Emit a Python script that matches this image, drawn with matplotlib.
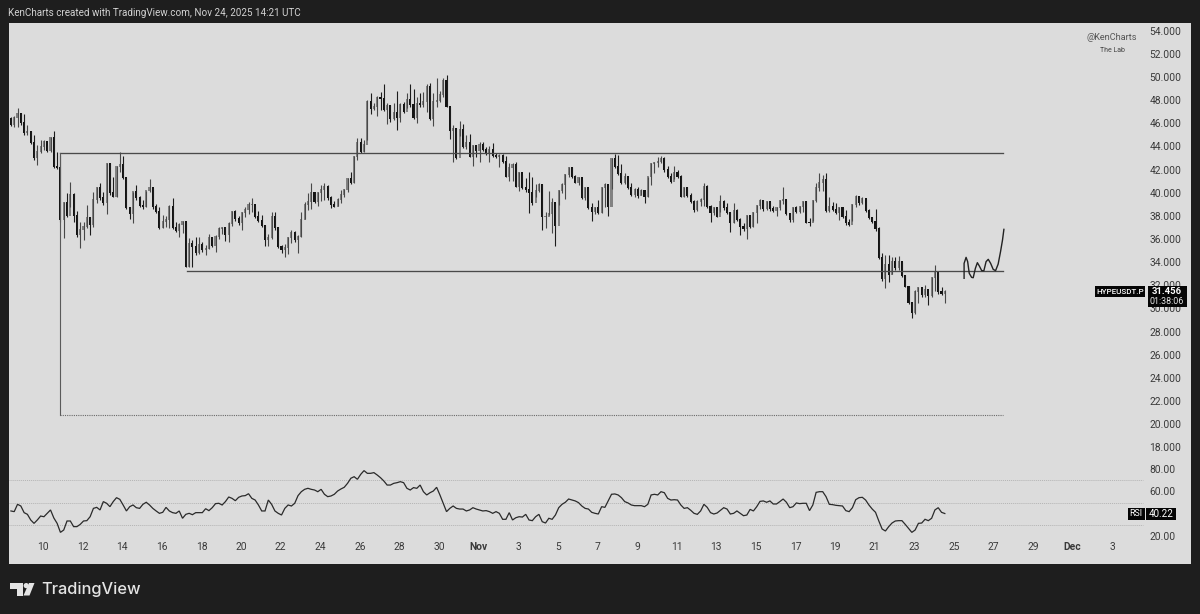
from matplotlib import pyplot as plt
from matplotlib.patches import Circle, Polygon, Rectangle
import numpy as np

# 4h candles, values. x is counted in days from Oct 0
first_day = 8.38
first_open = 46.4
closes = [
    45.85, 46.43, 46.8, 46.0, 45.13, 45.27, 44.27, 42.97, 43.55, 43.98, 44.41, 43.6,
    44.7, 42.19, 42.1, 37.64, 39.08, 37.98, 39.8, 37.99, 36.34, 36.77, 37.06, 37.78,
    37.2, 39.37, 40.38, 39.51, 39.08, 42.48, 39.94, 39.66, 42.19, 42.39, 41.24, 38.65,
    38.16, 40.09, 39.51, 38.85, 38.73, 40.15, 40.38, 38.73, 38.36, 36.92, 37.5, 37.64,
    38.79, 36.92, 36.72, 37.21, 37.44, 33.6, 35.56, 35.28, 34.76, 35.47, 35.05, 35.1,
    36.05, 35.39, 36.2, 36.83, 36.92, 36.34, 37.27, 38.36, 37.7, 37.35, 38.27, 38.5,
    38.94, 38.94, 37.87, 37.55, 37.12, 35.91, 36.05, 37.93, 36.92, 35.28, 35.05, 35.19,
    36.05, 36.49, 35.91, 36.2, 37.64, 38.94, 39.22, 39.94, 39.22, 39.94, 40.23, 40.52,
    39.51, 38.94, 38.79, 39.37, 39.8, 40.23, 41.15, 40.81, 43.11, 44.32, 43.55, 44.12,
    47.87, 47.2, 47.44, 48.21, 48.07, 47.15, 47.5, 46.34, 46.86, 46.43, 47.58, 47.0,
    48.01, 47.58, 46.43, 47.67, 47.58, 47.87, 49.17, 46.34, 47.87, 47.96, 48.45, 49.68,
    47.44, 45.36, 45.48, 42.97, 45.42, 43.92, 44.27, 43.11, 44.04, 43.63, 44.12, 43.69,
    43.4, 43.69, 43.17, 43.06, 43.17, 42.68, 41.39, 42.11, 42.39, 40.52, 41.67, 40.38,
    40.23, 39.95, 39.08, 40.18, 40.67, 37.93, 37.93, 38.16, 39.08, 37.15, 40.18, 40.67,
    41.53, 42.11, 41.39, 40.87, 41.24, 39.51, 40.38, 38.65, 38.36, 38.65, 38.27, 40.38,
    40.67, 38.79, 42.88, 42.19, 41.62, 40.81, 41.39, 40.38, 39.8, 40.23, 39.72, 40.15,
    39.66, 41.33, 42.48, 42.6, 42.68, 42.91, 41.96, 41.33, 40.95, 41.67, 41.39, 39.66,
    40.38, 39.72, 39.22, 38.5, 39.22, 39.37, 40.52, 38.73, 38.27, 38.65, 37.93, 39.22,
    38.65, 38.27, 37.41, 38.45, 37.64, 37.06, 36.83, 37.98, 37.0, 38.27, 38.85, 39.31,
    38.56, 39.22, 38.56, 38.45, 38.65, 39.31, 39.37, 38.16, 37.64, 38.65, 38.36, 38.79,
    39.22, 37.41, 37.35, 39.31, 40.38, 40.81, 41.1, 38.45, 38.79, 38.5, 38.27, 38.65,
    37.93, 37.35, 37.2, 38.93, 39.66, 39.08, 39.42, 38.45, 37.78, 37.49, 36.83, 34.33,
    32.51, 33.75, 32.9, 34.04, 33.46, 34.04, 32.8, 31.88, 30.44, 29.57, 31.44, 31.73,
    31.15, 31.59, 31.07, 32.6, 33.09, 31.44, 31.24, 31.456,
]
highs = [
    46.57, 46.63, 47.29, 46.92, 46.8, 45.85, 45.36, 44.99, 44.12, 44.55, 44.55, 44.12,
    44.78, 45.36, 43.55, 43.26, 39.22, 39.94, 40.95, 39.94, 38.45, 37.5, 37.5, 38.94,
    37.93, 40.03, 40.52, 40.87, 40.09, 42.54, 42.54, 41.38, 42.31, 43.55, 43.17, 41.24,
    38.79, 40.09, 40.66, 39.71, 39.37, 40.15, 41.15, 40.38, 39.02, 38.79, 38.07, 37.99,
    38.94, 39.51, 37.5, 37.35, 37.55, 37.5, 36.05, 35.91, 36.2, 36.2, 35.76, 35.47,
    36.43, 36.2, 36.34, 37.0, 37.0, 37.0, 37.5, 38.45, 38.5, 37.99, 38.36, 38.79,
    39.22, 39.51, 38.85, 38.45, 38.07, 37.21, 36.43, 38.36, 38.36, 37.0, 35.47, 35.56,
    36.2, 36.77, 36.72, 36.34, 38.36, 39.22, 39.94, 40.81, 40.09, 40.09, 40.66, 40.87,
    40.66, 39.71, 39.31, 39.51, 40.23, 40.29, 41.24, 41.82, 43.17, 44.7, 44.7, 44.55,
    48.01, 48.65, 47.73, 48.36, 48.73, 49.4, 47.73, 47.58, 47.73, 48.82, 47.73, 47.87,
    48.59, 49.4, 48.94, 48.3, 48.59, 48.73, 49.4, 49.45, 48.59, 49.89, 48.82, 49.89,
    50.17, 47.44, 45.85, 45.56, 46.2, 45.94, 44.99, 45.07, 44.12, 44.12, 44.41, 44.41,
    43.92, 44.04, 44.27, 43.46, 43.32, 43.35, 43.17, 42.54, 42.54, 42.68, 41.82, 41.53,
    41.24, 41.82, 41.39, 40.75, 40.81, 40.75, 38.36, 40.18, 39.51, 39.08, 40.25, 40.81,
    41.62, 42.2, 42.2, 41.53, 41.39, 41.1, 40.46, 40.38, 39.08, 38.79, 39.37, 40.52,
    40.81, 40.75, 42.97, 43.35, 43.26, 42.48, 41.67, 40.95, 40.87, 40.38, 40.46, 40.29,
    40.18, 41.39, 42.6, 42.68, 43.11, 43.17, 43.06, 42.31, 41.67, 42.31, 41.96, 41.53,
    40.46, 40.46, 39.95, 39.37, 39.37, 39.51, 40.87, 40.66, 38.93, 38.79, 38.65, 39.8,
    39.37, 39.14, 38.36, 39.08, 38.56, 37.78, 37.35, 38.07, 38.07, 38.36, 38.93, 39.42,
    39.37, 39.31, 39.22, 38.85, 38.79, 39.37, 40.46, 39.37, 38.27, 38.73, 38.85, 38.85,
    39.31, 39.31, 37.78, 39.37, 40.87, 41.67, 41.53, 41.67, 39.6, 39.22, 39.08, 38.79,
    38.65, 38.5, 37.7, 39.02, 39.8, 39.71, 39.6, 39.42, 38.56, 37.93, 38.56, 37.0,
    34.76, 34.61, 34.61, 34.47, 34.47, 34.53, 34.04, 32.9, 31.94, 30.5, 31.59, 31.88,
    31.73, 32.0, 31.3, 32.74, 33.75, 33.09, 31.82, 31.59,
]
lows = [
    45.76, 45.71, 45.71, 45.85, 44.99, 44.99, 44.21, 42.83, 42.39, 43.46, 43.69, 43.55,
    43.55, 42.1, 42.05, 37.5, 36.05, 37.93, 38.73, 37.5, 36.2, 35.19, 35.91, 36.92,
    36.34, 37.06, 39.14, 39.37, 38.94, 38.2, 39.8, 39.6, 39.66, 41.82, 41.15, 38.56,
    37.7, 37.35, 39.37, 38.79, 38.56, 38.79, 40.09, 38.56, 38.27, 36.83, 36.92, 37.06,
    36.92, 36.83, 36.63, 36.2, 36.54, 33.55, 33.55, 33.6, 34.61, 34.7, 34.9, 34.61,
    35.1, 35.28, 34.9, 35.97, 36.43, 35.85, 35.76, 37.12, 37.58, 37.21, 36.77, 37.93,
    38.2, 38.36, 37.78, 37.44, 37.0, 35.39, 35.39, 35.97, 36.77, 35.19, 34.76, 34.47,
    34.7, 35.68, 35.76, 34.76, 36.14, 37.7, 38.5, 38.56, 39.08, 38.85, 39.31, 39.37,
    39.37, 38.65, 38.73, 38.85, 39.14, 39.6, 40.09, 40.75, 40.81, 42.83, 43.46, 43.49,
    44.56, 46.8, 47.15, 46.63, 47.15, 47.09, 45.94, 46.14, 46.28, 45.42, 46.14, 46.86,
    47.29, 47.44, 46.34, 45.99, 47.38, 47.38, 47.0, 46.28, 45.76, 47.44, 47.87, 48.24,
    47.38, 44.61, 42.68, 42.88, 44.9, 43.84, 43.75, 43.06, 42.31, 43.11, 42.68, 43.63,
    43.26, 42.68, 43.11, 42.97, 42.19, 42.6, 41.33, 41.04, 41.04, 40.46, 40.18, 40.29,
    40.09, 38.22, 38.94, 39.66, 40.09, 36.78, 36.92, 38.07, 36.49, 35.42, 38.94, 40.0,
    39.43, 41.39, 41.3, 40.81, 40.67, 39.43, 39.37, 38.56, 37.58, 38.16, 38.16, 38.22,
    38.74, 37.99, 40.29, 42.11, 41.53, 40.75, 40.75, 40.29, 39.72, 39.66, 39.51, 39.8,
    39.14, 39.6, 40.67, 41.73, 42.19, 42.6, 41.82, 41.24, 40.81, 41.16, 41.24, 39.6,
    39.66, 39.6, 39.08, 38.36, 38.45, 38.85, 38.85, 38.65, 37.5, 38.07, 37.87, 38.36,
    38.5, 38.16, 36.63, 37.41, 37.55, 36.34, 36.72, 35.99, 36.92, 37.0, 37.35, 38.56,
    38.45, 38.5, 38.45, 38.36, 37.98, 38.5, 39.02, 38.07, 37.5, 37.5, 38.22, 38.27,
    38.36, 37.35, 37.12, 37.58, 39.22, 40.17, 40.17, 38.36, 38.36, 38.45, 38.16, 37.64,
    37.78, 37.2, 37.12, 37.58, 38.79, 38.93, 39.02, 38.36, 37.7, 37.35, 36.72, 34.24,
    32.4, 31.73, 32.31, 32.97, 33.32, 33.32, 32.68, 31.82, 30.38, 29.14, 29.51, 30.44,
    31.01, 30.95, 30.29, 30.95, 31.53, 31.24, 31.15, 30.44,
]

rsi_values = [
    42.5, 41.9, 48.4, 46.9, 41.0, 39.5, 34.5, 31.5, 34.5, 38.0, 37.4, 40.4, 43.4, 36.3,
    31.5, 23.5, 25.6, 33.6, 33.6, 28.6, 28.6, 30.6, 33.6, 33.9, 37.4, 44.8, 45.7, 43.4,
    50.8, 49.3, 46.3, 50.8, 54.3, 52.8, 47.8, 42.5, 46.3, 47.8, 45.4, 44.8, 48.4, 50.2,
    47.8, 44.8, 42.5, 40.4, 41.3, 45.7, 42.5, 41.0, 40.4, 42.5, 36.0, 39.5, 40.4, 39.2,
    41.0, 41.0, 41.0, 44.5, 42.8, 45.4, 49.0, 49.3, 47.8, 50.8, 54.9, 53.7, 51.6, 54.6,
    55.8, 56.1, 57.8, 53.7, 52.2, 47.8, 42.5, 42.5, 52.2, 48.4, 42.5, 40.4, 38.9, 44.8,
    47.8, 46.9, 49.3, 56.1, 59.6, 61.7, 62.6, 61.7, 61.1, 59.6, 61.7, 57.3, 55.2, 55.8,
    57.3, 60.2, 62.0, 63.5, 67.0, 71.5, 72.9, 70.6, 75.0, 78.3, 75.9, 75.9, 76.5, 74.4,
    72.0, 69.1, 65.5, 65.5, 67.0, 67.6, 68.5, 67.6, 62.6, 61.1, 63.2, 62.6, 65.5, 59.6,
    56.7, 58.7, 60.2, 63.5, 56.7, 49.3, 41.9, 44.8, 46.9, 44.8, 44.2, 44.2, 42.5, 43.4,
    45.4, 44.2, 43.4, 42.5, 42.8, 41.9, 40.4, 41.9, 40.4, 35.1, 35.1, 41.0, 34.5, 36.5,
    37.4, 37.1, 39.5, 34.5, 33.9, 37.4, 39.5, 33.0, 31.8, 36.0, 35.1, 38.9, 45.4, 48.4,
    50.2, 53.1, 52.2, 51.4, 49.9, 46.9, 44.8, 44.2, 41.3, 40.4, 39.8, 46.3, 45.7, 51.4,
    57.3, 57.6, 56.7, 54.3, 50.8, 49.6, 47.8, 47.2, 47.2, 47.2, 46.3, 48.4, 56.7, 57.3,
    56.7, 59.6, 58.7, 53.7, 52.2, 52.5, 52.2, 47.8, 44.8, 45.4, 43.1, 40.4, 39.5, 42.5,
    48.4, 45.7, 41.0, 39.8, 40.7, 43.1, 45.4, 44.2, 39.8, 40.4, 42.5, 40.4, 38.3, 38.9,
    43.9, 42.5, 46.3, 51.0, 51.4, 50.2, 51.4, 48.7, 48.7, 50.8, 53.1, 50.2, 45.4, 46.3,
    49.6, 49.0, 49.3, 49.3, 42.8, 47.8, 59.0, 59.6, 59.6, 55.2, 48.4, 48.1, 47.5, 47.2,
    46.9, 42.8, 41.9, 45.4, 52.5, 54.3, 54.6, 52.2, 47.8, 44.2, 41.3, 33.6, 26.5, 24.7,
    28.6, 31.8, 33.6, 33.9, 33.9, 30.6, 27.1, 23.5, 25.6, 31.5, 31.8, 35.1, 33.9, 36.0,
    43.4, 45.4, 41.3, 40.22,
]

# hand drawn projection after the last candle
path_days = [56.52, 56.52, 56.62, 56.70, 56.78, 56.90, 56.98, 57.09, 57.19, 57.29, 57.41,
             57.52, 57.63, 57.74, 57.86, 57.99, 58.11, 58.24, 58.36, 58.46, 58.53]
path_prices = [32.6, 33.89, 34.41, 34.04, 33.03, 32.68, 32.65, 33.46, 33.95, 33.66, 33.26,
               33.26, 34.04, 34.24, 33.89, 33.37, 33.26, 33.83, 34.9, 35.91, 36.83]

top_level = 43.39
mid_level = 33.23
low_level = 20.78
box_days = [10.86, 17.27, 58.48]

price_ticks = list(range(18, 56, 2))
rsi_ticks = [20, 40, 60, 80]
rsi_bands = [30, 50, 70]
date_ticks = [10, 12, 14, 16, 18, 20, 22, 24, 26, 28, 30, 32, 34, 36, 38, 40, 42, 44, 46,
              48, 50, 52, 54, 56, 58, 60, 62, 64]
date_labels = ["10", "12", "14", "16", "18", "20", "22", "24", "26", "28", "30", "Nov", "3",
               "5", "7", "9", "11", "13", "15", "17", "19", "21", "23", "25", "27", "29",
               "Dec", "3"]

BG = "#1e1e1e"
PANEL = "#dcdcdc"
INK = "#2a2a2a"
W, H = 1200, 614
LEFT, RIGHT, TOP, BOTTOM = 9, 1191, 22.5, 564
FONT = "Roboto"


def to_day(px):
    return 10 + (px - 43) / 19.8


plt.rcParams["font.family"] = FONT
fig = plt.figure(figsize=(W / 100, H / 100), dpi=100, facecolor=BG)
rect = [LEFT / W, 1 - BOTTOM / H, (RIGHT - LEFT) / W, (BOTTOM - TOP) / H]

ax = fig.add_axes(rect, facecolor=PANEL)
ax.set_xlim(to_day(LEFT), to_day(RIGHT))
ax.set_ylim(54 - (BOTTOM - 30.7) / 11.57, 54 + (30.7 - TOP) / 11.57)

# candles
opens = np.array([first_open] + closes[:-1])
shut = np.array(closes)
days = first_day + np.arange(len(closes)) / 6
up = shut >= opens
ax.vlines(days, lows, highs, color=np.where(up, "#484848", "#1c1c1c"), lw=0.8)
ax.bar(days, np.abs(shut - opens) + 0.08, bottom=np.minimum(shut, opens), width=0.105,
       color=np.where(up, "#828282", "#141414"), lw=0)

# range box drawn on the chart
ax.plot([box_days[0], box_days[2]], [top_level, top_level], color="#4a4a4a", lw=0.95)
ax.plot([box_days[1], box_days[2]], [mid_level, mid_level], color="#4a4a4a", lw=0.95)
ax.plot([box_days[0], box_days[0]], [top_level, low_level], color="#5a5a5a", lw=0.8)
ax.plot([box_days[0], box_days[2]], [low_level, low_level], color="#6a6a6a", lw=0.8, ls=(0, (1, 1)))
ax.plot(path_days, path_prices, color="#222222", lw=1.0)

ax.yaxis.tick_right()
ax.set_yticks(price_ticks)
ax.set_yticklabels([f"{p}.000" for p in price_ticks])
ax.tick_params(axis="y", length=0, pad=-30, labelsize=7.4, labelcolor="#3a3a3a")
ax.set_xticks(date_ticks)
ax.set_xticklabels(date_labels)
ax.tick_params(axis="x", length=0, pad=-15.5, labelsize=7.4, labelcolor="#3a3a3a")
for label in ax.get_xticklabels():
    if label.get_text() in ("Nov", "Dec"):
        label.set_fontweight("bold")
for side in ax.spines.values():
    side.set_visible(False)

# RSI pane shares the panel, only its own scale differs
rsi_ax = fig.add_axes(rect, facecolor="none")
rsi_ax.set_xlim(ax.get_xlim())
rsi_ax.set_ylim(80 - (BOTTOM - 468.7) / 1.127, 80 + (468.7 - TOP) / 1.127)
rsi_ax.hlines(rsi_bands, to_day(LEFT), to_day(1143), color="#b4b4b4", lw=0.7, ls=(0, (1, 1)))
rsi_ax.plot(days[:len(rsi_values)], rsi_values, color=INK, lw=0.9, solid_joinstyle="miter")
rsi_ax.yaxis.tick_right()
rsi_ax.set_yticks(rsi_ticks)
rsi_ax.set_yticklabels([f"{r}.00" for r in rsi_ticks])
rsi_ax.tick_params(axis="y", length=0, pad=-30, labelsize=7.4, labelcolor="#3a3a3a")
rsi_ax.set_xticks([])
for side in rsi_ax.spines.values():
    side.set_visible(False)

# overlay in image pixels for header, badges and logo
top = fig.add_axes([0, 0, 1, 1], facecolor="none")
top.set_xlim(0, W)
top.set_ylim(H, 0)
top.axis("off")

top.text(8, 13, "KenCharts created with TradingView.com, Nov 24, 2025 14:21 UTC",
         color="#d2d2d2", fontsize=7.15, va="center")
top.text(1112, 38, "@KenCharts", color="#555555", fontsize=6.6, ha="center", va="center")
top.text(1112, 50.5, "The Lab", color="#444444", fontsize=5, ha="center", va="center")

top.add_patch(Rectangle((1095, 286), 50, 11, color="#050505", lw=0))
top.add_patch(Rectangle((1148, 286), 39, 21, color="#050505", lw=0))
top.text(1120, 291.5, "HYPEUSDT.P", color="white", fontsize=5.8, ha="center", va="center",
         fontweight="medium")
top.text(1167, 291.5, "31.456", color="white", fontsize=6.8, ha="center", va="center",
         fontweight="bold")
top.text(1167, 301.5, "01:38:06", color="#e6e6e6", fontsize=6.4, ha="center", va="center")

top.add_patch(Rectangle((1127.5, 507.5), 17.5, 12.5, color="#050505", lw=0))
top.add_patch(Rectangle((1146, 507.5), 30, 12.5, color="#050505", lw=0))
top.text(1136, 513.7, "RSI", color="white", fontsize=6.4, ha="center", va="center")
top.text(1161, 513.7, "40.22", color="white", fontsize=7, ha="center", va="center")

# TradingView mark
logo = "#e4e4e4"
top.add_patch(Polygon([(10, 583), (23, 583), (23, 595.5), (17, 595.5), (17, 588.5), (10, 588.5)],
                      color=logo, lw=0))
top.add_patch(Circle((26.2, 585.6), 2.6, color=logo, lw=0))
top.add_patch(Polygon([(29, 583), (34.5, 583), (29.5, 595.5), (23.5, 595.5)], color=logo, lw=0))
top.text(41, 589.5, "TradingView", color=logo, fontsize=11.8, fontweight="medium",
         family="Inter", va="center")

fig.savefig("out.png", dpi=100, facecolor=BG)
